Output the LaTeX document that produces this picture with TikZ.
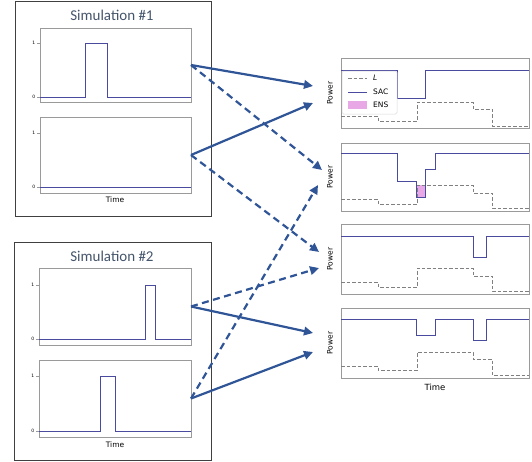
\documentclass[tikz,border=0pt]{standalone}
\usepackage{fontspec}
\setmainfont{DejaVu Sans}
\newfontfamily\titlefont{Carlito}
\usetikzlibrary{arrows.meta}
\definecolor{arrblue}{HTML}{2F5597}
\definecolor{sacblue}{HTML}{4A4A9E}
\definecolor{framegray}{HTML}{9A9A9A}
\definecolor{outergray}{HTML}{404040}
\definecolor{titlecol}{HTML}{44546A}
\definecolor{ensfill}{HTML}{E8A8E6}
\definecolor{lgray}{HTML}{808080}
\tikzset{
  plotframe/.style={draw=framegray, line width=0.8pt, inner sep=0pt, outer sep=0pt, fill=white},
  simframe/.style={draw=outergray, line width=0.8pt},
  sig/.style={draw=sacblue, line width=0.9pt},
  lline/.style={draw=lgray, line width=0.8pt, dash pattern=on 3.5pt off 2pt},
  arr/.style={draw=arrblue, line width=2.2pt, -{Triangle[length=9pt,width=8.5pt]}},
  darr/.style={arr, dash pattern=on 7pt off 4.5pt},
  ticklab/.style={font=\fontsize{4.5}{5}\selectfont, anchor=east, inner sep=0.5pt},
  axlab/.style={font=\fontsize{7.5}{8.5}\selectfont, inner sep=0pt},
  titlelab/.style={font=\titlefont\fontsize{15}{17}\selectfont, text=titlecol, inner sep=0pt},
}
\begin{document}
\begin{tikzpicture}[x=1pt,y=-1pt]
\useasboundingbox (0,0) rectangle (532,461);
% ---------- Simulation #1 ----------
\draw[simframe] (15,1) rectangle (211,216);
\node[titlelab] (t1) at (112,15) {Simulation \#1};
\node[plotframe, minimum width=151pt, minimum height=74pt] (a1) at (115.5,65) {};
\node[plotframe, minimum width=151pt, minimum height=76pt] (b1) at (115.5,155) {};
\foreach \yy/\lab in {43/1,97/0,133/1,187/0}{
  \draw[framegray, line width=0.5pt] (37,\yy) -- (40,\yy);
  \node[ticklab] at (36,\yy) {\lab};
}
\draw[sig] (40,97) -- (85,97) -- (85,43) -- (107,43) -- (107,97) -- (191,97);
\draw[sig] (40,187) -- (191,187);
\node[axlab] (time1) at (115,200) {Time};
% ---------- Simulation #2 ----------
\draw[simframe] (14,242) rectangle (211,460);
\node[titlelab] (t2) at (112,256) {Simulation \#2};
\node[plotframe, minimum width=152pt, minimum height=77pt] (a2) at (115,306.5) {};
\node[plotframe, minimum width=152pt, minimum height=77pt] (b2) at (115,398.5) {};
\foreach \yy/\lab in {285/1,339/0,376/1,431/0}{
  \draw[framegray, line width=0.5pt] (36,\yy) -- (39,\yy);
  \node[ticklab] at (35,\yy) {\lab};
}
\draw[sig] (39,339) -- (145,339) -- (145,285) -- (155,285) -- (155,339) -- (191,339);
\draw[sig] (39,431) -- (100,431) -- (100,376) -- (115,376) -- (115,431) -- (191,431);
\node[axlab] (time2) at (115,445) {Time};
% ---------- Right plots ----------
\node[plotframe, minimum width=188pt, minimum height=70pt] (r1) at (435,93) {};
\node[plotframe, minimum width=188pt, minimum height=68pt] (r2) at (435,177) {};
\node[plotframe, minimum width=188pt, minimum height=70pt] (r3) at (435,259) {};
\node[plotframe, minimum width=188pt, minimum height=70pt] (r4) at (435,343) {};
\foreach \n in {r1,r2,r3,r4}{
  \node[axlab, rotate=90] at ([xshift=-11pt]\n.west) {Power};
}
% R1
\draw[lline] (341,116) -- (378,116) -- (378,121) -- (417,121) -- (417,102) -- (473,102) -- (473,109) -- (492,109) -- (492,126) -- (529,126);
\draw[sig] (341,70) -- (397,70) -- (397,98) -- (425,98) -- (425,70) -- (529,70);
% R2
\fill[ensfill] (416,185) rectangle (425,197);
\draw[lline] (341,199) -- (378,199) -- (378,204) -- (417,204) -- (417,185) -- (473,185) -- (473,193) -- (492,193) -- (492,208) -- (529,208);
\draw[sig] (341,153) -- (397,153) -- (397,181) -- (416,181) -- (416,197) -- (425,197) -- (425,169) -- (435,169) -- (435,153) -- (529,153);
% R3
\draw[lline] (341,282) -- (378,282) -- (378,287) -- (417,287) -- (417,268) -- (473,268) -- (473,276) -- (492,276) -- (492,291) -- (529,291);
\draw[sig] (341,236) -- (473,236) -- (473,257) -- (486,257) -- (486,236) -- (529,236);
% R4
\draw[lline] (341,366) -- (378,366) -- (378,370) -- (417,370) -- (417,352) -- (473,352) -- (473,359) -- (492,359) -- (492,375) -- (529,375);
\draw[sig] (341,319) -- (416,319) -- (416,335) -- (435,335) -- (435,319) -- (473,319) -- (473,340) -- (486,340) -- (486,319) -- (529,319);
\node[axlab, font=\fontsize{8.5}{9.5}\selectfont] (time3) at (435,387) {Time};
% Legend
\draw[draw=black!15, fill=white, line width=0.5pt, rounded corners=1.5pt] (342,71) rectangle (397,114);
\draw[lline] (348,78) -- (367,78);
\node[axlab, anchor=west] at (373,78) {\itshape L};
\draw[sig] (348,92) -- (367,92);
\node[axlab, anchor=west] at (373,92) {SAC};
\fill[ensfill] (348,101) rectangle (367,109);
\node[axlab, anchor=west] at (373,105) {ENS};
% ---------- Arrow targets ----------
\coordinate (e1) at (313,86);
\coordinate (e2) at (322,170);
\coordinate (e3) at (313,103);
\coordinate (e4) at (319,252);
\coordinate (e5) at (319,268);
\coordinate (e6) at (313,333);
\coordinate (e7) at (318,185);
\coordinate (e8) at (313,352);
% ---------- Arrows ----------
\draw[arr] (a1.east) -- (e1);
\draw[darr] (a1.east) -- (e2);
\draw[arr] (b1.east) -- (e3);
\draw[darr] (b1.east) -- (e4);
\draw[darr] (a2.east) -- (e5);
\draw[arr] (a2.east) -- (e6);
\draw[darr] (b2.east) -- (e7);
\draw[arr] (b2.east) -- (e8);
\end{tikzpicture}
\end{document}
